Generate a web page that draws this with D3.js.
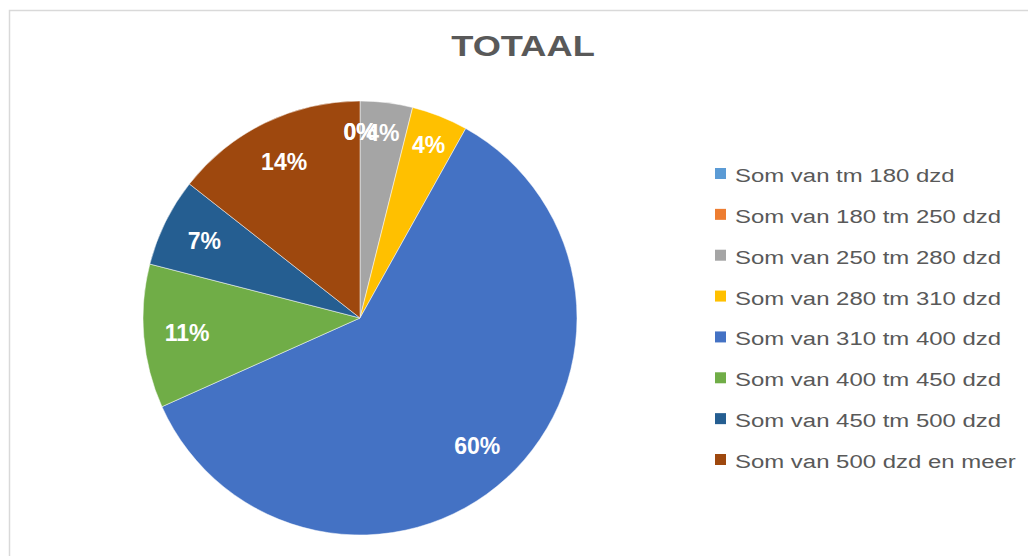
<!DOCTYPE html>
<html>
<head>
<meta charset="utf-8">
<script src="https://cdn.jsdelivr.net/npm/d3@7"></script>
<style>
  html, body { margin: 0; padding: 0; background: #fff; }
  svg { display: block; font-family: "Liberation Sans", Arial, sans-serif; }
</style>
</head>
<body>
<svg id="chart" width="1028" height="556"></svg>
<script>
const title = "TOTAAL";
const categories = [
  "Som van tm 180 dzd",
  "Som van 180 tm 250 dzd",
  "Som van 250 tm 280 dzd",
  "Som van 280 tm 310 dzd",
  "Som van 310 tm 400 dzd",
  "Som van 400 tm 450 dzd",
  "Som van 450 tm 500 dzd",
  "Som van 500 dzd en meer"
];
const values = [0, 0, 3.9, 4.2, 60.2, 10.7, 6.6, 14.4];
const labels = ["0%", "0%", "4%", "4%", "60%", "11%", "7%", "14%"];
const colors = ["#5B9BD5", "#ED7D31", "#A5A5A5", "#FFC000", "#4472C4", "#70AD47", "#255E91", "#9E480E"];

const svg = d3.select("#chart");

// outer chart border
svg.append("rect")
  .attr("x", 9.5).attr("y", 10.5)
  .attr("width", 1040).attr("height", 570)
  .attr("fill", "#fff")
  .attr("stroke", "#d9d9d9").attr("stroke-width", 1.5);

// title
svg.append("g")
  .attr("transform", "translate(523,56) scale(1.25,1)")
  .append("text")
  .attr("text-anchor", "middle")
  .attr("font-size", 29).attr("font-weight", "bold")
  .attr("fill", "#595959")
  .text(title);

// pie
const cx = 360, cy = 318, R = 217;
const data = categories.map((c, i) => ({ cat: c, value: values[i], label: labels[i], color: colors[i] }));
const pie = d3.pie().sort(null).value(d => d.value);
const arcs = pie(data);
const arc = d3.arc().innerRadius(0).outerRadius(R);

const g = svg.append("g").attr("transform", `translate(${cx},${cy})`);
g.selectAll("path.slice")
  .data(arcs)
  .join("path")
  .attr("class", "slice")
  .attr("d", arc)
  .attr("fill", d => d.data.color)
  .attr("stroke", "#fff")
  .attr("stroke-width", d => d.value > 0 ? 0.5 : 0);

// labels: large slices at 0.8R, small slices pushed outward
const labelArcBig = d3.arc().innerRadius(R * 0.8).outerRadius(R * 0.8);
const labelArcSmall = d3.arc().innerRadius(R * 0.86).outerRadius(R * 0.86);
g.selectAll("text.lbl")
  .data(arcs)
  .join("text")
  .attr("class", "lbl")
  .attr("transform", d => {
    const c = (d.data.value < 5 ? labelArcSmall : labelArcBig).centroid(d);
    return `translate(${c[0]},${c[1]})`;
  })
  .attr("text-anchor", "middle")
  .attr("dy", "0.36em")
  .attr("font-size", 23).attr("font-weight", "bold")
  .attr("fill", "#fff")
  .text(d => d.data.label);

// legend
const legendY = d3.scalePoint().domain(categories).range([182, 468]);
const leg = svg.append("g");
const items = leg.selectAll("g.item")
  .data(data)
  .join("g")
  .attr("class", "item")
  .attr("transform", d => `translate(715,${legendY(d.cat)})`);
items.append("rect")
  .attr("x", 0).attr("y", -14)
  .attr("width", 11).attr("height", 11)
  .attr("fill", d => d.color);
items.append("g")
  .attr("transform", "translate(20,0) scale(1.26,1)")
  .append("text")
  .attr("font-size", 19)
  .attr("fill", "#595959")
  .text(d => d.cat);
</script>
</body>
</html>
